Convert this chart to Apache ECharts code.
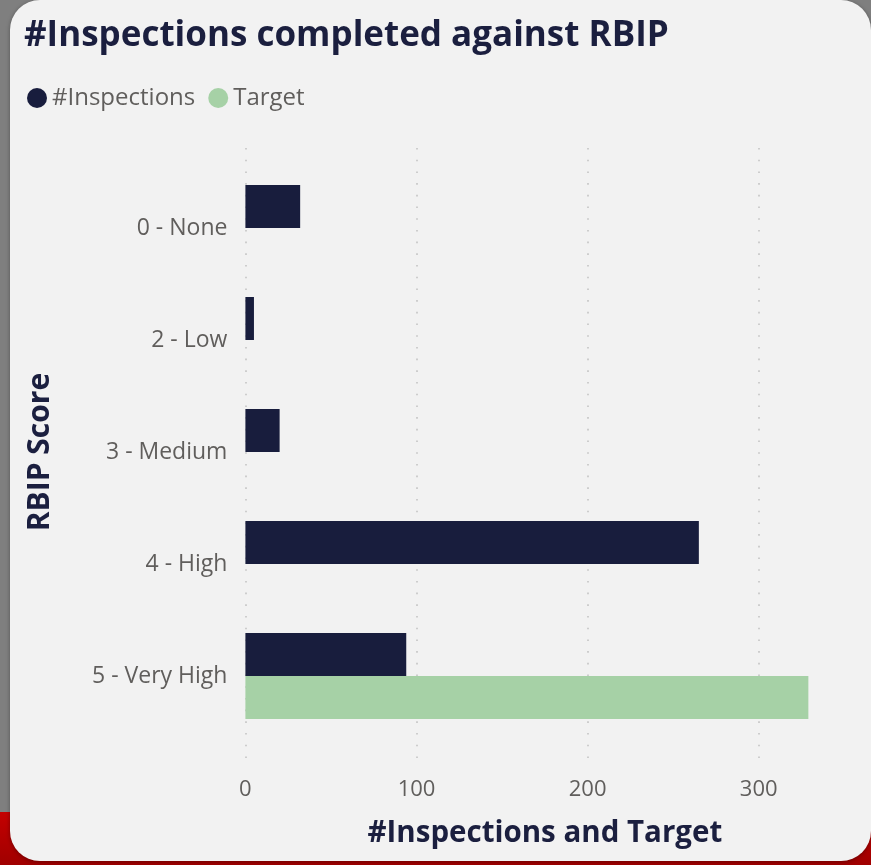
<!DOCTYPE html>
<html>
<head>
<meta charset="utf-8">
<script src="https://cdn.jsdelivr.net/npm/echarts@6/dist/echarts.min.js"></script>
<style>
  html, body { margin: 0; padding: 0; }
  body { width: 871px; height: 865px; overflow: hidden; background: #7f7f7f; position: relative; }
  .strip { position: absolute; left: 0; top: 812px; width: 871px; height: 53px; background: linear-gradient(#c40000, #a00000); }
  .card { position: absolute; left: 10px; top: 0; width: 861px; height: 861px; border-radius: 30px; background: #f2f2f2; box-shadow: 0 1px 4px rgba(0,0,0,.35); }
  #chart { position: absolute; left: 0; top: 0; width: 871px; height: 865px; }
</style>
</head>
<body>
<div class="strip"></div>
<div class="card"></div>
<div id="chart"></div>
<script>
// 数据
var categories = ['0 - None', '2 - Low', '3 - Medium', '4 - High', '5 - Very High'];
var inspections = [32, 5, 20, 265, 94];
var target = [null, null, null, null, 329];
var xMin = 0, xMax = 350, xStep = 100;

(function() {
  var myChart = echarts.init(document.getElementById('chart'));
  var font = '"Open Sans", "Noto Sans", sans-serif';
  var navy = '#1b1f3f';
  var labelGray = '#605e5c';

  var option = {
    backgroundColor: 'transparent',
    textStyle: { fontFamily: font },
    title: {
      text: '#Inspections completed against RBIP',
      left: 24,
      top: 19,
      padding: 0,
      textStyle: { fontFamily: font, fontSize: 35, fontWeight: 'bold', color: navy }
    },
    legend: {
      left: 27,
      top: 86,
      padding: 0,
      icon: 'circle',
      itemWidth: 20,
      itemHeight: 20,
      itemGap: 13,
      textStyle: { fontFamily: font, fontSize: 24, color: labelGray },
      data: ['#Inspections', 'Target']
    },
    // grid 0: 柱子, grid 1: 虚线网格和刻度
    grid: [
      { left: 245.4, right: 26.7, top: 172, height: 560 },
      { left: 245.4, right: 26.7, top: 148, bottom: 100 }
    ],
    xAxis: [
      { gridIndex: 0, type: 'value', min: xMin, max: xMax, interval: xStep, show: false },
      {
        gridIndex: 1, type: 'value', min: xMin, max: xMax, interval: xStep,
        name: '#Inspections and Target',
        nameLocation: 'middle',
        nameGap: 54,
        nameTextStyle: { fontFamily: font, fontSize: 29.5, fontWeight: 'bold', color: navy },
        axisLine: { show: false },
        axisTick: { show: false },
        axisLabel: {
          color: labelGray, fontSize: 22, margin: 14,
          formatter: function(v) { return v % xStep === 0 ? String(v) : ''; }
        },
        splitLine: {
          show: true,
          showMaxLine: false,
          lineStyle: { color: '#c4c4c4', width: 1.6, type: [1.6, 10.1] }
        }
      }
    ],
    yAxis: [
      {
        gridIndex: 0, type: 'category', data: categories, inverse: true,
        name: 'RBIP Score',
        nameLocation: 'middle',
        nameRotate: 90,
        nameGap: 190,
        nameTextStyle: { fontFamily: font, fontSize: 30, fontWeight: 'bold', color: navy },
        axisLine: { show: false },
        axisTick: { show: false },
        splitLine: { show: false },
        axisLabel: { color: labelGray, fontSize: 23, margin: 18, padding: [4, 0, 0, 0] }
      },
      { gridIndex: 1, type: 'category', data: categories, show: false }
    ],
    series: [
      {
        name: '#Inspections',
        type: 'bar',
        xAxisIndex: 0, yAxisIndex: 0,
        data: inspections,
        barWidth: 43,
        barGap: '0%',
        itemStyle: { color: '#181d3d' }
      },
      {
        name: 'Target',
        type: 'bar',
        xAxisIndex: 0, yAxisIndex: 0,
        data: target,
        barWidth: 43,
        barGap: '0%',
        itemStyle: { color: '#a6d1a6' }
      }
    ]
  };

  myChart.setOption(option);
  window.addEventListener('resize', function() { myChart.resize(); });
})();
</script>
</body>
</html>
